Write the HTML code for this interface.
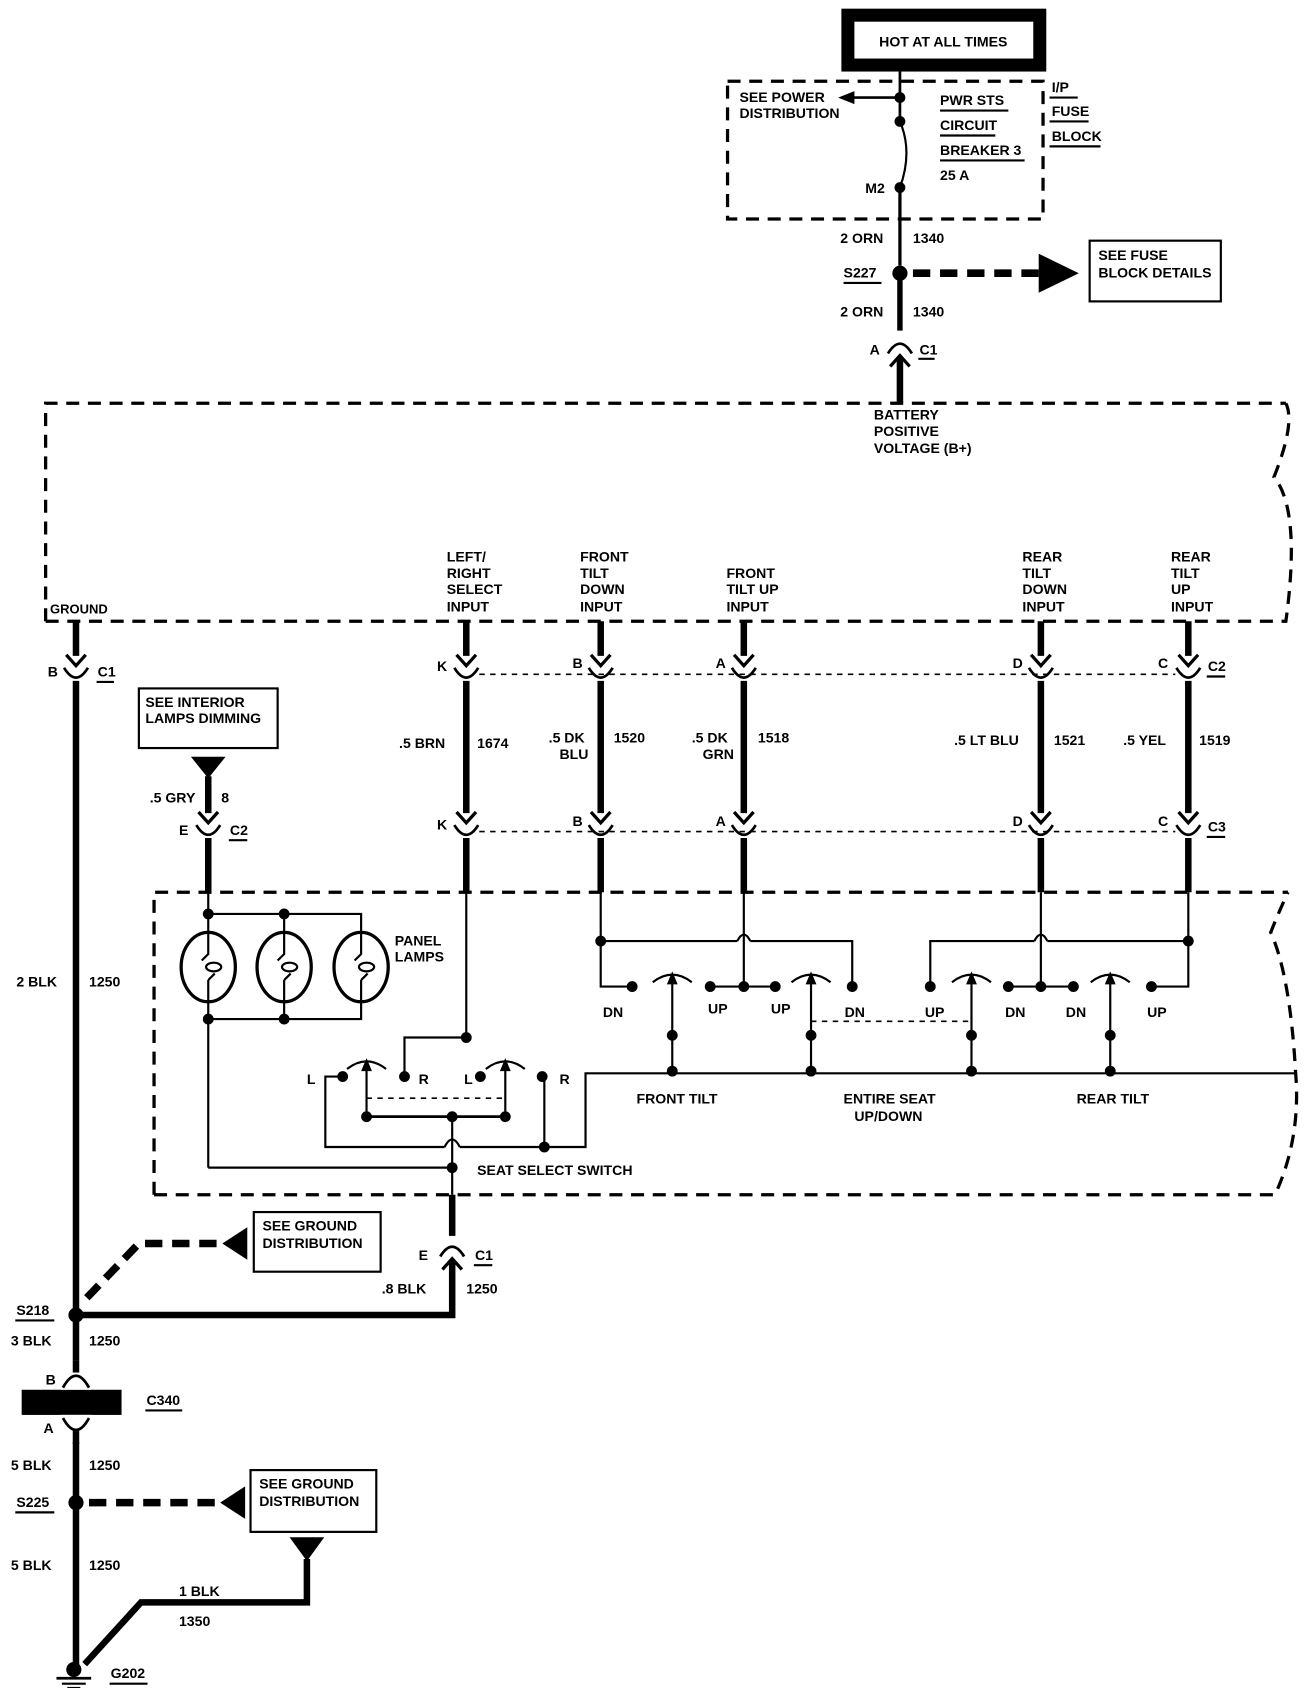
<!DOCTYPE html>
<html><head><meta charset="utf-8"><style>
html,body{margin:0;padding:0;background:#fff}
svg{display:block}
text{font-family:"Liberation Sans",sans-serif;font-size:13px;fill:#000;font-weight:bold}
</style></head><body>
<svg width="1312" height="1688" viewBox="0 0 1210 1557" xmlns="http://www.w3.org/2000/svg">
<defs>
<g id="cd"><path d="M-9,-16 L0,-6 L9,-16" fill="none" stroke="#000" stroke-width="3"/><path d="M-11,-4 Q0,14 11,-4" fill="none" stroke="#000" stroke-width="2.5"/></g>
<g id="cu"><path d="M-9,16 L0,6 L9,16" fill="none" stroke="#000" stroke-width="3"/><path d="M-11,4 Q0,-14 11,4" fill="none" stroke="#000" stroke-width="2.5"/></g>
<g id="piv"><path d="M-18,8 Q0,-6 18,8" fill="none" stroke="#000" stroke-width="2"/><path d="M-5,10 L0,-2 L5,10Z" fill="#000"/></g>
</defs>
<rect width="1210" height="1557" fill="#fff"/>
<!-- top box -->
<rect x="782" y="14" width="177" height="46" fill="none" stroke="#000" stroke-width="12"/>
<text x="870" y="43" text-anchor="middle">HOT AT ALL TIMES</text>
<rect x="671" y="75" width="291" height="127" fill="none" stroke="#000" stroke-width="3" stroke-dasharray="12,8"/>
<line x1="830" y1="66" x2="830" y2="112" stroke="#000" stroke-width="2.5"/>
<path d="M830,112 Q842,140 830,173" fill="none" stroke="#000" stroke-width="2"/>
<line x1="830" y1="173" x2="830" y2="245" stroke="#000" stroke-width="3"/>
<line x1="830" y1="252" x2="830" y2="305" stroke="#000" stroke-width="5"/>
<circle cx="830" cy="90" r="5"/><circle cx="830" cy="112" r="5"/><circle cx="830" cy="173" r="5"/>
<line x1="830" y1="90" x2="785" y2="90" stroke="#000" stroke-width="2.5"/><path d="M773,90 L788,84 L788,96Z"/>
<text x="682" y="94">SEE POWER</text><text x="682" y="109">DISTRIBUTION</text>
<text x="867" y="97">PWR STS</text><line x1="867" y1="102" x2="930" y2="102" stroke="#000" stroke-width="2"/>
<text x="867" y="120">CIRCUIT</text><line x1="867" y1="125" x2="918" y2="125" stroke="#000" stroke-width="2"/>
<text x="867" y="143">BREAKER 3</text><line x1="867" y1="148" x2="945" y2="148" stroke="#000" stroke-width="2"/>
<text x="867" y="166">25 A</text>
<text x="798" y="178">M2</text>
<text x="970" y="85">I/P</text><line x1="968" y1="90" x2="994" y2="90" stroke="#000" stroke-width="2"/>
<text x="970" y="107">FUSE</text><line x1="968" y1="112" x2="1004" y2="112" stroke="#000" stroke-width="2"/>
<text x="970" y="130">BLOCK</text><line x1="968" y1="135" x2="1015" y2="135" stroke="#000" stroke-width="2"/>
<text x="775" y="224">2 ORN</text><text x="842" y="224">1340</text>
<circle cx="830" cy="252" r="7"/><text x="778" y="256">S227</text><line x1="778" y1="261" x2="813" y2="261" stroke="#000" stroke-width="2"/>
<line x1="842" y1="252" x2="960" y2="252" stroke="#000" stroke-width="7" stroke-dasharray="16,9"/>
<path d="M958,234 L995,252 L958,270Z"/>
<rect x="1005" y="222" width="121" height="56" fill="none" stroke="#000" stroke-width="2"/>
<text x="1013" y="240">SEE FUSE</text><text x="1013" y="256">BLOCK DETAILS</text>
<text x="775" y="292">2 ORN</text><text x="842" y="292">1340</text>
<use href="#cu" x="830" y="322"/><line x1="830" y1="330" x2="830" y2="372" stroke="#000" stroke-width="6"/>
<text x="802" y="327">A</text><text x="848" y="327">C1</text><line x1="847" y1="331" x2="862" y2="331" stroke="#000" stroke-width="2"/>
<!-- module box -->
<path d="M42,573 L42,372 L1186,372 M42,573 L1186,573 Q1200,470 1175,440 Q1195,390 1186,372" fill="none" stroke="#000" stroke-width="3" stroke-dasharray="12,8"/>
<text x="806" y="387">BATTERY</text><text x="806" y="402">POSITIVE</text><text x="806" y="418">VOLTAGE (B+)</text>
<text x="46" y="566" style="font-size:12px">GROUND</text>
<g style="font-size:12.5px">
<text x="412" y="518">LEFT/</text><text x="412" y="533">RIGHT</text><text x="412" y="548">SELECT</text><text x="412" y="564">INPUT</text>
<text x="535" y="518">FRONT</text><text x="535" y="533">TILT</text><text x="535" y="548">DOWN</text><text x="535" y="564">INPUT</text>
<text x="670" y="533">FRONT</text><text x="670" y="548">TILT UP</text><text x="670" y="564">INPUT</text>
<text x="943" y="518">REAR</text><text x="943" y="533">TILT</text><text x="943" y="548">DOWN</text><text x="943" y="564">INPUT</text>
<text x="1080" y="518">REAR</text><text x="1080" y="533">TILT</text><text x="1080" y="548">UP</text><text x="1080" y="564">INPUT</text>
</g>
<!-- vertical wires -->
<g stroke="#000" stroke-width="6">
<line x1="70" y1="573" x2="70" y2="605"/><line x1="70" y1="628" x2="70" y2="1540"/>
<line x1="430" y1="573" x2="430" y2="605"/><line x1="430" y1="628" x2="430" y2="750"/><line x1="430" y1="773" x2="430" y2="823"/>
<line x1="554" y1="573" x2="554" y2="605"/><line x1="554" y1="628" x2="554" y2="750"/><line x1="554" y1="773" x2="554" y2="823"/>
<line x1="686" y1="573" x2="686" y2="605"/><line x1="686" y1="628" x2="686" y2="750"/><line x1="686" y1="773" x2="686" y2="823"/>
<line x1="960" y1="573" x2="960" y2="605"/><line x1="960" y1="628" x2="960" y2="750"/><line x1="960" y1="773" x2="960" y2="823"/>
<line x1="1096" y1="573" x2="1096" y2="605"/><line x1="1096" y1="628" x2="1096" y2="750"/><line x1="1096" y1="773" x2="1096" y2="823"/>
<line x1="192" y1="716" x2="192" y2="750"/><line x1="192" y1="773" x2="192" y2="823"/>
</g>
<g><use href="#cd" x="70" y="620"/><use href="#cd" x="430" y="620"/><use href="#cd" x="554" y="620"/><use href="#cd" x="686" y="620"/><use href="#cd" x="960" y="620"/><use href="#cd" x="1096" y="620"/>
<use href="#cd" x="430" y="765"/><use href="#cd" x="554" y="765"/><use href="#cd" x="686" y="765"/><use href="#cd" x="960" y="765"/><use href="#cd" x="1096" y="765"/><use href="#cd" x="192" y="765"/></g>
<line x1="442" y1="622" x2="1084" y2="622" stroke="#000" stroke-width="1.5" stroke-dasharray="5,5"/>
<line x1="442" y1="767" x2="1084" y2="767" stroke="#000" stroke-width="1.5" stroke-dasharray="5,5"/>
<text x="44" y="624">B</text><text x="90" y="624">C1</text><line x1="89" y1="629" x2="105" y2="629" stroke="#000" stroke-width="2"/>
<text x="403" y="619">K</text><text x="528" y="616">B</text><text x="660" y="616">A</text><text x="934" y="616">D</text><text x="1068" y="616">C</text>
<text x="1114" y="619">C2</text><line x1="1113" y1="624" x2="1130" y2="624" stroke="#000" stroke-width="2"/>
<text x="403" y="765">K</text><text x="528" y="762">B</text><text x="660" y="762">A</text><text x="934" y="762">D</text><text x="1068" y="762">C</text>
<text x="1114" y="767">C3</text><line x1="1113" y1="772" x2="1130" y2="772" stroke="#000" stroke-width="2"/>
<text x="368" y="690">.5 BRN</text><text x="440" y="690">1674</text>
<text x="506" y="685">.5 DK</text><text x="516" y="700">BLU</text><text x="566" y="685">1520</text>
<text x="638" y="685">.5 DK</text><text x="648" y="700">GRN</text><text x="699" y="685">1518</text>
<text x="880" y="687">.5 LT BLU</text><text x="972" y="687">1521</text>
<text x="1036" y="687">.5 YEL</text><text x="1106" y="687">1519</text>
<rect x="128" y="635" width="128" height="55" fill="none" stroke="#000" stroke-width="2"/>
<text x="134" y="652">SEE INTERIOR</text><text x="134" y="667">LAMPS DIMMING</text>
<path d="M176,698 L208,698 L192,718Z"/>
<text x="138" y="740">.5 GRY</text><text x="204" y="740">8</text>
<text x="165" y="770">E</text><text x="212" y="770">C2</text><line x1="211" y1="775" x2="228" y2="775" stroke="#000" stroke-width="2"/>
<text x="15" y="910">2 BLK</text><text x="82" y="910">1250</text>
<!-- lower box -->
<path d="M142,1102 L142,823 L1188,823 M142,1102 L1176,1102 Q1200,1050 1195,990 Q1190,900 1172,860 Q1180,840 1188,823" fill="none" stroke="#000" stroke-width="3" stroke-dasharray="12,8"/>
<g stroke="#000" stroke-width="2" fill="none">
<!-- lamps -->
<line x1="192" y1="823" x2="192" y2="1077"/><polyline points="192,843 333,843 333,940 192,940"/><line x1="262" y1="843" x2="262" y2="940"/>
<ellipse cx="192" cy="892" rx="25" ry="32" stroke-width="3" fill="#fff"/><ellipse cx="262" cy="892" rx="25" ry="32" stroke-width="3" fill="#fff"/><ellipse cx="333" cy="892" rx="25" ry="32" stroke-width="3" fill="#fff"/>
<path d="M192,860 L192,880 L186,886 M192,904 L198,898 M192,904 L192,924"/><ellipse cx="197" cy="892" rx="7" ry="4"/>
<path d="M262,860 L262,880 L256,886 M262,904 L268,898 M262,904 L262,924"/><ellipse cx="267" cy="892" rx="7" ry="4"/>
<path d="M333,860 L333,880 L327,886 M333,904 L339,898 M333,904 L333,924"/><ellipse cx="338" cy="892" rx="7" ry="4"/>
<polyline points="192,1077 417,1077"/>
<!-- seat select -->
<polyline points="430,823 430,957 373,957 373,993"/>
<polyline points="316,993 300,993 300,1058 410,1058"/><path d="M410,1058 Q417,1044 424,1058"/><polyline points="424,1058 540,1058 540,990 1195,990"/>
<line x1="502" y1="993" x2="502" y2="1058"/>
<line x1="338" y1="985" x2="338" y2="1030"/><line x1="466" y1="985" x2="466" y2="1030"/>
<line x1="338" y1="1030" x2="466" y2="1030" stroke-width="2.5"/>
<line x1="417" y1="1030" x2="417" y2="1102"/>
<line x1="338" y1="1013" x2="466" y2="1013" stroke-width="1.5" stroke-dasharray="5,5"/>
<!-- front -->
<polyline points="554,823 554,910 583,910"/><polyline points="554,868 680,868"/><path d="M680,868 Q686,856 692,868"/><polyline points="692,868 786,868 786,910"/>
<line x1="686" y1="823" x2="686" y2="910"/><line x1="655" y1="910" x2="715" y2="910"/>
<polyline points="1096,823 1096,910 1062,910"/><polyline points="1096,868 966,868"/><path d="M954,868 Q960,856 966,868"/><polyline points="954,868 858,868 858,910"/>
<line x1="960" y1="823" x2="960" y2="910"/><line x1="930" y1="910" x2="990" y2="910"/>
<line x1="620" y1="900" x2="620" y2="990"/><line x1="748" y1="900" x2="748" y2="990"/><line x1="896" y1="900" x2="896" y2="990"/><line x1="1024" y1="900" x2="1024" y2="990"/>
<line x1="748" y1="942" x2="896" y2="942" stroke-width="1.5" stroke-dasharray="5,5"/>
</g>
<g>
<circle cx="192" cy="843" r="5"/><circle cx="262" cy="843" r="5"/><circle cx="192" cy="940" r="5"/><circle cx="262" cy="940" r="5"/>
<circle cx="430" cy="957" r="5"/><circle cx="316" cy="993" r="5"/><circle cx="373" cy="993" r="5"/><circle cx="443" cy="993" r="5"/><circle cx="500" cy="993" r="5"/>
<circle cx="338" cy="1030" r="5"/><circle cx="466" cy="1030" r="5"/><circle cx="417" cy="1030" r="5"/><circle cx="502" cy="1058" r="5"/><circle cx="417" cy="1077" r="5"/>
<use href="#piv" x="338" y="978"/><use href="#piv" x="466" y="978"/>
<circle cx="554" cy="868" r="5"/><circle cx="583" cy="910" r="5"/><circle cx="655" cy="910" r="5"/><circle cx="686" cy="910" r="5"/><circle cx="715" cy="910" r="5"/><circle cx="786" cy="910" r="5"/>
<circle cx="1096" cy="868" r="5"/><circle cx="858" cy="910" r="5"/><circle cx="930" cy="910" r="5"/><circle cx="960" cy="910" r="5"/><circle cx="990" cy="910" r="5"/><circle cx="1062" cy="910" r="5"/>
<use href="#piv" x="620" y="898"/><use href="#piv" x="748" y="898"/><use href="#piv" x="896" y="898"/><use href="#piv" x="1024" y="898"/>
<circle cx="620" cy="955" r="5"/><circle cx="620" cy="988" r="5"/><circle cx="748" cy="955" r="5"/><circle cx="748" cy="988" r="5"/>
<circle cx="896" cy="955" r="5"/><circle cx="896" cy="988" r="5"/><circle cx="1024" cy="955" r="5"/><circle cx="1024" cy="988" r="5"/>
</g>
<text x="364" y="872">PANEL</text><text x="364" y="887">LAMPS</text>
<text x="283" y="1000">L</text><text x="386" y="1000">R</text><text x="428" y="1000">L</text><text x="516" y="1000">R</text>
<text x="556" y="938">DN</text><text x="653" y="935">UP</text><text x="711" y="935">UP</text><text x="779" y="938">DN</text>
<text x="853" y="938">UP</text><text x="927" y="938">DN</text><text x="983" y="938">DN</text><text x="1058" y="938">UP</text>
<text x="587" y="1018">FRONT TILT</text><text x="778" y="1018">ENTIRE SEAT</text><text x="788" y="1034">UP/DOWN</text><text x="993" y="1018">REAR TILT</text>
<text x="440" y="1084">SEAT SELECT SWITCH</text>
<!-- bottom -->
<line x1="417" y1="1102" x2="417" y2="1140" stroke="#000" stroke-width="6"/><use href="#cu" x="417" y="1155"/>
<polyline points="417,1163 417,1213 76,1213" fill="none" stroke="#000" stroke-width="6"/>
<text x="386" y="1162">E</text><text x="438" y="1162">C1</text><line x1="437" y1="1167" x2="454" y2="1167" stroke="#000" stroke-width="2"/>
<text x="352" y="1193">.8 BLK</text><text x="430" y="1193">1250</text>
<polyline points="80,1197 128,1147 205,1147" fill="none" stroke="#000" stroke-width="7" stroke-dasharray="16,9"/>
<path d="M205,1147 L228,1132 L228,1162Z"/>
<rect x="234" y="1118" width="117" height="55" fill="none" stroke="#000" stroke-width="2"/>
<text x="242" y="1135">SEE GROUND</text><text x="242" y="1151">DISTRIBUTION</text>
<circle cx="70" cy="1213" r="7"/><text x="15" y="1213">S218</text><line x1="14" y1="1218" x2="50" y2="1218" stroke="#000" stroke-width="2"/>
<text x="10" y="1241">3 BLK</text><text x="82" y="1241">1250</text>
<rect x="20" y="1282" width="92" height="23"/>
<rect x="56" y="1255" width="28" height="75" fill="#fff"/>
<line x1="70" y1="1255" x2="70" y2="1266" stroke="#000" stroke-width="6"/><line x1="70" y1="1320" x2="70" y2="1332" stroke="#000" stroke-width="6"/>
<path d="M58,1280 Q70,1258 82,1280 M58,1308 Q70,1330 82,1308" fill="none" stroke="#000" stroke-width="2.5"/>
<rect x="20" y="1282" width="92" height="23"/>
<text x="42" y="1277">B</text><text x="40" y="1322">A</text>
<text x="135" y="1296">C340</text><line x1="134" y1="1301" x2="168" y2="1301" stroke="#000" stroke-width="2"/>
<text x="10" y="1356">5 BLK</text><text x="82" y="1356">1250</text>
<circle cx="70" cy="1386" r="7"/><text x="15" y="1390">S225</text><line x1="14" y1="1395" x2="50" y2="1395" stroke="#000" stroke-width="2"/>
<line x1="82" y1="1386" x2="205" y2="1386" stroke="#000" stroke-width="7" stroke-dasharray="16,9"/>
<path d="M203,1386 L226,1371 L226,1401Z"/>
<rect x="231" y="1356" width="116" height="57" fill="none" stroke="#000" stroke-width="2"/>
<text x="239" y="1373">SEE GROUND</text><text x="239" y="1389">DISTRIBUTION</text>
<path d="M267,1418 L299,1418 L283,1440Z"/>
<polyline points="283,1438 283,1478 130,1478 78,1535" fill="none" stroke="#000" stroke-width="6"/>
<text x="10" y="1448">5 BLK</text><text x="82" y="1448">1250</text>
<text x="165" y="1472">1 BLK</text><text x="165" y="1500">1350</text>
<circle cx="68" cy="1540" r="7"/>
<line x1="52" y1="1548" x2="84" y2="1548" stroke="#000" stroke-width="2.5"/><line x1="57" y1="1553" x2="79" y2="1553" stroke="#000" stroke-width="2"/><line x1="62" y1="1557" x2="74" y2="1557" stroke="#000" stroke-width="2"/>
<text x="102" y="1548">G202</text><line x1="101" y1="1553" x2="136" y2="1553" stroke="#000" stroke-width="2"/>
</svg>
</body></html>
